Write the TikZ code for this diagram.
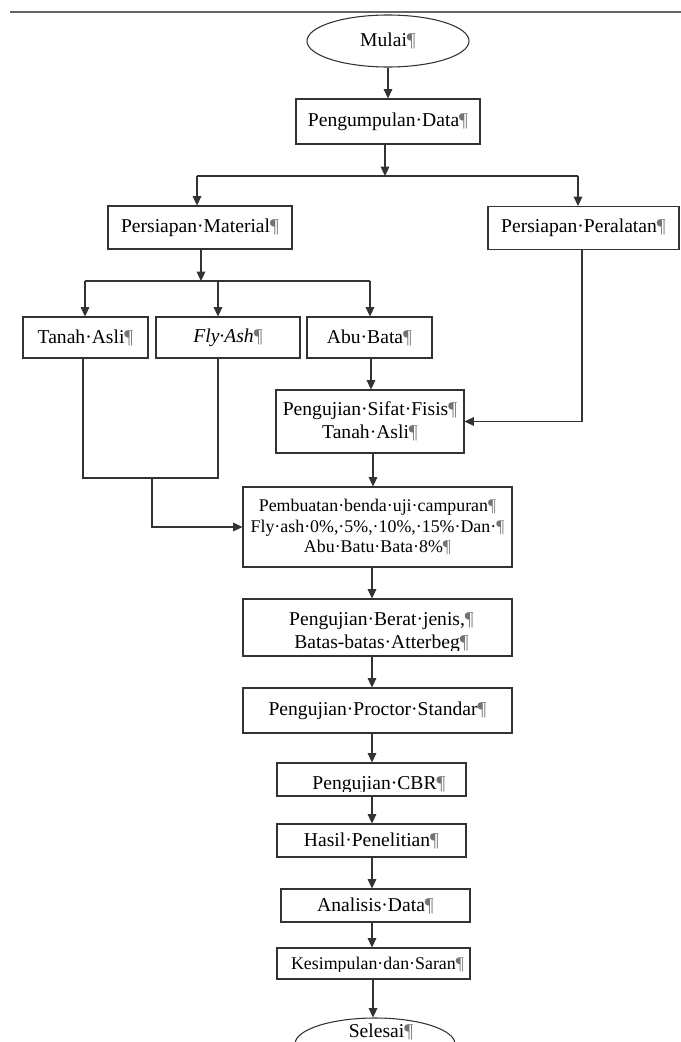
\documentclass[tikz,border=0pt]{standalone}
\usepackage{fontspec}
\setmainfont{Liberation Serif}
\usetikzlibrary{arrows.meta,shapes.geometric,calc}
\newcommand\pil{{\color{black!55}¶}}
\begin{document}
\begin{tikzpicture}[x=0.75pt,y=-0.75pt,
  line/.style={draw=black!80,line width=0.8pt},
  arr/.style={line,-{Triangle[length=7pt,width=6.5pt]}},
  box/.style 2 args={draw=black!80,line width=0.8pt,rectangle,minimum width=#1*0.75pt,minimum height=#2*0.75pt,inner sep=0pt,align=center,font=\fontsize{14.7pt}{17.3pt}\selectfont},
  oval/.style 2 args={draw=black!80,line width=0.8pt,ellipse,minimum width=#1*0.75pt,minimum height=#2*0.75pt,inner sep=0pt,font=\fontsize{14.7pt}{17.3pt}\selectfont},
  txt/.style={inner sep=0pt,anchor=base,font=\fontsize{14.7pt}{17.3pt}\selectfont},
  small/.style={font=\fontsize{13.4pt}{15.4pt}\selectfont},
]
\useasboundingbox (0,0) rectangle (681,1042);
\clip (0,0) rectangle (681,1042);

\coordinate (rl) at (10,12);
\coordinate (rr) at (681,12);
\draw[draw=black!60,line width=0.8pt] (rl) -- (rr);

% boxes
\node[oval={162}{52}] (start) at (388,41) {Mulai\pil};
\node[box={184}{45}] (data) at (388,121.5) {Pengumpulan·Data\pil};
\node[box={184}{43}] (material) at (200,227.5) {Persiapan·Material\pil};
\node[box={191}{43}] (alat) at (583.5,228) {Persiapan·Peralatan\pil};
\node[box={125}{41}] (tanah) at (85.5,337.5) {Tanah·Asli\pil};
\node[box={144}{41}] (fly) at (228,337.5) {\textit{Fly·Ash}\pil};
\node[box={125}{41}] (abu) at (369.5,337.5) {Abu·Bata\pil};
\node[box={188}{63}] (fisis) at (370,421.5) {Pengujian·Sifat·Fisis\pil\\Tanah·Asli\pil};
\node[box={269}{80},small] (buat) at (377.5,527) {Pembuatan·benda·uji·campuran\pil\\Fly·ash·0\%,·5\%,·10\%,·15\%·Dan·\pil\\Abu·Batu·Bata·8\%\pil};
\node[box={269}{57}] (berat) at (377.5,627.5) {};
\node[box={269}{45}] (proctor) at (377.5,710.5) {Pengujian·Proctor·Standar\pil};
\node[box={189}{33}] (cbr) at (371.5,779.5) {};
\node[box={189}{33}] (hasil) at (371.5,840.5) {Hasil·Penelitian\pil};
\node[box={189}{33}] (analisis) at (375.5,905.5) {Analisis·Data\pil};
\node[box={193}{31}] (simpul) at (373.5,963.5) {};
\node[oval={160}{52}] (selesai) at (375,1044) {};

% texts placed by baseline (clipped ones)
\node[txt] (berat1) at (381.5,625) {Pengujian·Berat·jenis,\pil};
\begin{scope}
\clip (243,600) rectangle (512,650);
\node[txt] (berat2) at (381.5,648) {Batas-batas·Atterbeg\pil};
\end{scope}
\begin{scope}
\clip (277,764) rectangle (466,791.5);
\node[txt] (cbrtxt) at (379,789) {Pengujian·CBR\pil};
\end{scope}
\begin{scope}
\clip (277,949) rectangle (470,971.5);
\node[txt,small] (simpultxt) at (377.5,969) {Kesimpulan·dan·Saran\pil};
\end{scope}
\node[txt] (selesaitxt) at (381,1037) {Selesai\pil};

% connectors
\draw[arr] (start.south) -- (data.north);
\coordinate (j1) at (385,176);
\draw[arr] (data.south -| j1) -- (j1);
\coordinate (jm) at (197,176);
\coordinate (ja) at (578,176);
\draw[line] (jm) -- (ja);
\draw[arr] (jm) -- (jm |- material.north);
\draw[arr] (ja) -- (ja |- alat.north);

\coordinate (j2) at (201,281);
\draw[arr] (material.south -| j2) -- (j2);
\coordinate (jt) at (85,281);
\coordinate (jf) at (218,281);
\coordinate (jb) at (370,281);
\draw[line] (jt) -- (jb);
\draw[arr] (jt) -- (jt |- tanah.north);
\draw[arr] (jf) -- (jf |- fly.north);
\draw[arr] (jb) -- (jb |- abu.north);

\coordinate (tb) at (83,478);
\coordinate (fb) at (218,478);
\coordinate (mb) at (152,478);
\draw[line] (tanah.south -| tb) -- (tb) -- (fb) -- (fly.south -| fb);
\draw[arr] (mb) -- (mb |- buat.west) -- (buat.west);

\coordinate (ab) at (371,0);
\draw[arr] (abu.south -| ab) -- (fisis.north -| ab);
\coordinate (pr) at (582,0);
\draw[arr] (alat.south -| pr) -- (fisis.east -| pr) -- (fisis.east);

\coordinate (c1) at (373,0);
\coordinate (c2) at (372,0);
\draw[arr] (fisis.south -| c1) -- (buat.north -| c1);
\draw[arr] (buat.south -| c2) -- (berat.north -| c2);
\draw[arr] (berat.south -| c2) -- (proctor.north -| c2);
\draw[arr] (proctor.south -| c2) -- (cbr.north -| c2);
\draw[arr] (cbr.south -| c2) -- (hasil.north -| c2);
\draw[arr] (hasil.south -| c2) -- (analisis.north -| c2);
\draw[arr] (analisis.south -| c2) -- (simpul.north -| c2);
\draw[arr] (simpul.south -| c1) -- (selesai.north -| c1);
\end{tikzpicture}
\end{document}
